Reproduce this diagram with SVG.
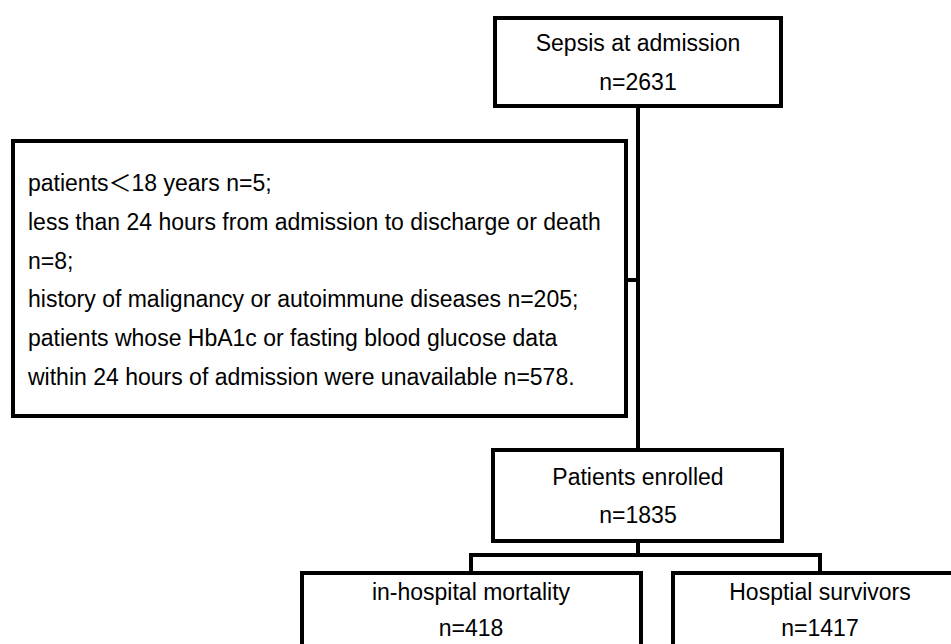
<svg xmlns="http://www.w3.org/2000/svg" width="951" height="644" viewBox="0 0 951 644">
<style>
.box{fill:#fff;stroke:#000;stroke-width:4}
.ln{fill:none;stroke:#000;stroke-width:4}
text{font-family:"Liberation Sans","Noto Sans CJK SC",Arial,sans-serif;font-size:23px;fill:#000}
.c{text-anchor:middle}
</style>
<rect width="951" height="644" fill="#fff"/>
<g id="connectors">
<path class="ln" d="M638 106V450"/>
<path class="ln" d="M626 280H638"/>
<path class="ln" d="M638 541V555"/>
<path class="ln" d="M469 555H822"/>
<path class="ln" d="M471 555V573"/>
<path class="ln" d="M820 555V573"/>
</g>
<g id="sepsis">
<rect class="box" x="495" y="18" width="286" height="88"/>
<text class="c" x="638" y="51">Sepsis at admission</text>
<text class="c" x="638" y="90">n=2631</text>
</g>
<g id="exclusions">
<rect class="box" x="13" y="141" width="613" height="275"/>
<text x="28" y="191">patients＜18 years n=5;</text>
<text x="28" y="230">less than 24 hours from admission to discharge or death</text>
<text x="28" y="269">n=8;</text>
<text x="28" y="307">history of malignancy or autoimmune diseases n=205;</text>
<text x="28" y="346">patients whose HbA1c or fasting blood glucose data</text>
<text x="28" y="385">within 24 hours of admission were unavailable n=578.</text>
</g>
<g id="enrolled">
<rect class="box" x="493" y="450" width="289" height="91"/>
<text class="c" x="638" y="485">Patients enrolled</text>
<text class="c" x="638" y="523">n=1835</text>
</g>
<g id="mortality">
<rect class="box" x="302" y="573" width="339" height="100"/>
<text class="c" x="471" y="600">in-hospital mortality</text>
<text class="c" x="471" y="636">n=418</text>
</g>
<g id="survivors">
<rect class="box" x="673" y="573" width="300" height="100"/>
<text class="c" x="820" y="600">Hosptial survivors</text>
<text class="c" x="820" y="636">n=1417</text>
</g>
</svg>
